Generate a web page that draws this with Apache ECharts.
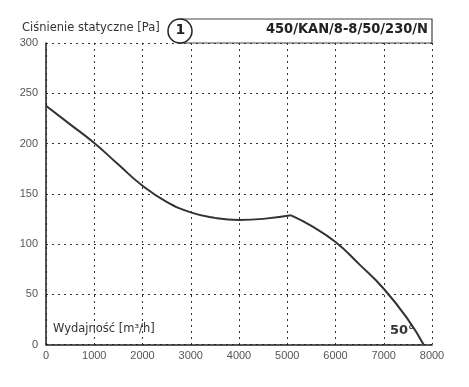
<!DOCTYPE html>
<html><head><meta charset="utf-8">
<script src="https://cdn.jsdelivr.net/npm/echarts@6/dist/echarts.min.js"></script>
<style>html,body{margin:0;padding:0;background:#fff}#c{width:469px;height:387px}</style>
</head><body><div id="c"></div>
<script>
var flowLeft = [0, 500, 1000, 1500, 2000, 2500, 3000, 3500, 4000, 4500, 5080];
var pressureLeft = [237.5, 219, 200.5, 179, 158, 142, 131.5, 126, 124, 125, 128.5];
var flowRight = [5080, 5500, 6000, 6500, 7000, 7500, 7825];
var pressureRight = [128.5, 118, 102, 79.5, 55.5, 25, 0];
var xTicks = [0, 1000, 2000, 3000, 4000, 5000, 6000, 7000, 8000];
var yTicks = [0, 50, 100, 150, 200, 250, 300];

function pairs(xs, ys){ return xs.map(function(x,i){return [x, ys[i]];}); }
var chart = echarts.init(document.getElementById('c'), null, {renderer:'canvas'});
var gridDash = {type:[2,4], color:'#333', width:1};
chart.setOption({
  animation:false,
  grid:{left:46, right:37, top:43, bottom:42.5, containLabel:false},
  xAxis:{type:'value', min:xTicks[0], max:xTicks[xTicks.length-1], interval:1000,
    axisLine:{show:true, onZero:false, lineStyle:{color:'#222', width:1.5}},
    axisTick:{show:false},
    axisLabel:{color:'#555', fontSize:11, fontFamily:'Liberation Sans, Arial', margin:6,
      formatter:function(v){return String(v);}},
    splitLine:{show:true, lineStyle:gridDash}},
  yAxis:{type:'value', min:yTicks[0], max:yTicks[yTicks.length-1], interval:50,
    axisLine:{show:true, onZero:false, lineStyle:{color:'#222', width:1.5}},
    axisTick:{show:false},
    axisLabel:{color:'#555', fontSize:11, fontFamily:'Liberation Sans, Arial', margin:8,
      formatter:function(v){return String(v);}},
    splitLine:{show:true, lineStyle:gridDash}},
  series:[
    {type:'line', data:pairs(flowLeft, pressureLeft), smooth:0.5, showSymbol:false,
     lineStyle:{color:'#333', width:2}},
    {type:'line', data:pairs(flowRight, pressureRight), smooth:0.5, showSymbol:false,
     lineStyle:{color:'#333', width:2}}
  ],
  graphic:[
    {type:'rect', shape:{x:180, y:19, width:252, height:24}, style:{fill:'#fff', stroke:'#444', lineWidth:1.2}, z:10},
    {type:'circle', shape:{cx:180, cy:31, r:12}, style:{fill:'#fff', stroke:'#222', lineWidth:1.5}, z:11},
    {type:'text', left:175.5, top:23.5, style:{text:'1', font:'bold 14px DejaVu Sans', fill:'#222'}, z:12},
    {type:'text', right:41, top:22, style:{text:'450/KAN/8-8/50/230/N', font:'bold 14.5px "DejaVu Sans Condensed"', fill:'#222', textAlign:'right'}, z:12},
    {type:'text', left:22, top:22, style:{text:'Ciśnienie statyczne [Pa]', font:'11.5px DejaVu Sans', fill:'#333'}, z:12},
    {type:'text', left:53, top:323, style:{text:'Wydajność [m³/h]', font:'11.5px DejaVu Sans', fill:'#333'}, z:12},
    {type:'text', left:390, top:324, style:{text:'50°', font:'bold 13px DejaVu Sans', fill:'#333'}, z:12}
  ]
});
</script></body></html>
